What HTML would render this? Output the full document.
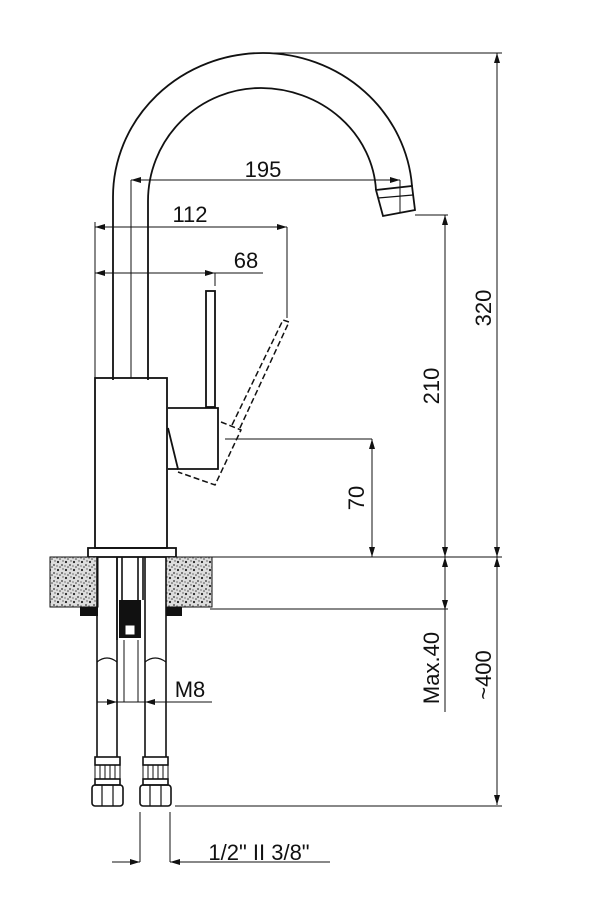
<!DOCTYPE html>
<html><head><style>
html,body{margin:0;padding:0;background:#fff;}
svg{display:block;}
text{font-family:"Liberation Sans",sans-serif;fill:#111;}
</style></head><body>
<svg width="600" height="907" viewBox="0 0 600 907" xmlns="http://www.w3.org/2000/svg">
<defs>
<marker id="a" viewBox="0 0 10 6" refX="10" refY="3" markerWidth="10" markerHeight="6" orient="auto-start-reverse" markerUnits="userSpaceOnUse"><path d="M0,0L10,3L0,6z" fill="#111"/></marker>
<pattern id="st" width="8" height="8" patternUnits="userSpaceOnUse"><rect width="8" height="8" fill="#ddd"/><circle cx="2" cy="2" r="1.1" fill="#222"/><circle cx="6" cy="5" r="0.9" fill="#333"/><circle cx="4" cy="7" r="0.8" fill="#444"/><circle cx="7" cy="1" r="0.7" fill="#555"/><circle cx="1" cy="6" r="0.6" fill="#333"/></pattern>
</defs>
<g fill="none" stroke="#111" stroke-width="1.8">
<!-- spout -->
<path d="M113,380 L113,197 A150,144 0 0 1 263,53 A150,144 0 0 1 412,186"/>
<path d="M148,380 L148,201 A113,113 0 0 1 261,88 A116,108 0 0 1 376,190"/>
<path d="M376,190 L412,186 L415,210 L383,216 Z"/>
<line x1="378" y1="198" x2="413" y2="195" stroke-width="1.2"/>
<!-- body -->
<rect x="95" y="378" width="72" height="170"/>
<rect x="88" y="548" width="88" height="9"/>
<!-- lever -->
<rect x="206" y="291" width="9" height="116"/>
<path d="M168,408 L218,408 L218,469 L178,469 L168,428"/>
<line x1="168" y1="469" x2="178" y2="469"/>
<g stroke-dasharray="6,3" stroke-width="1.5">
<path d="M221,422 L241,430 L215,485 L178,472"/>
<path d="M232,425 L283,320 L289,322 L239,430"/>
</g>
</g>
<!-- dimension lines -->
<g stroke="#111" stroke-width="1" fill="none">
<line x1="131" y1="180" x2="131" y2="378"/>
<line x1="131" y1="180" x2="400" y2="180" marker-start="url(#a)" marker-end="url(#a)"/>
<line x1="400" y1="180" x2="400" y2="212"/>
<line x1="95" y1="222" x2="95" y2="378"/>
<line x1="95" y1="227" x2="287" y2="227" marker-start="url(#a)" marker-end="url(#a)"/>
<line x1="287" y1="227" x2="287" y2="318"/>
<line x1="95" y1="273" x2="215" y2="273" marker-start="url(#a)" marker-end="url(#a)"/>
<line x1="215" y1="273" x2="263" y2="273"/>
<line x1="215" y1="273" x2="215" y2="286"/>
<line x1="225" y1="439" x2="372" y2="439"/>
<line x1="372" y1="439" x2="372" y2="557" marker-start="url(#a)" marker-end="url(#a)"/>
<line x1="415" y1="215" x2="448" y2="215"/>
<line x1="445" y1="215" x2="445" y2="557" marker-start="url(#a)" marker-end="url(#a)"/>
<line x1="257" y1="53" x2="502" y2="53"/>
<line x1="497" y1="53" x2="497" y2="557" marker-start="url(#a)" marker-end="url(#a)"/>
<line x1="176" y1="557" x2="502" y2="557"/>
<line x1="445" y1="557" x2="445" y2="610" marker-start="url(#a)" marker-end="url(#a)"/>
<line x1="445" y1="610" x2="445" y2="712"/>
<line x1="210" y1="609" x2="448" y2="609"/>
<line x1="497" y1="557" x2="497" y2="805" marker-start="url(#a)" marker-end="url(#a)"/>
<line x1="175" y1="806" x2="502" y2="806"/>
<line x1="97" y1="702" x2="117" y2="702" marker-end="url(#a)"/>
<line x1="145" y1="702" x2="212" y2="702" marker-start="url(#a)"/>
<line x1="117" y1="702" x2="145" y2="702"/>
<line x1="140" y1="812" x2="140" y2="862"/>
<line x1="170" y1="812" x2="170" y2="862"/>
<line x1="112" y1="862" x2="140" y2="862" marker-end="url(#a)"/>
<line x1="170" y1="862" x2="330" y2="862" marker-start="url(#a)"/>
</g>
<!-- countertop -->
<rect x="50" y="557" width="48" height="50" fill="url(#st)" stroke="#111" stroke-width="1"/>
<rect x="166" y="557" width="46" height="50" fill="url(#st)" stroke="#111" stroke-width="1"/>
<rect x="80" y="607" width="18" height="9" fill="#111"/>
<rect x="166" y="607" width="16" height="9" fill="#111"/>
<!-- hoses -->
<g fill="none" stroke="#111" stroke-width="1.6">
<path d="M97,557 L97,757 M117,557 L117,757 M145,557 L145,757 M166,557 L166,757"/>
<path d="M117,557 L117,640 M122,557 L122,600 M138,557 L138,600 M143,557 L143,600"/>
<path d="M97,662 Q107,654 117,662 M145,662 Q155,654 166,662" stroke-width="1.2"/>
<path d="M124,640 L124,702 M138,640 L138,702" stroke-width="1"/>
<rect x="95" y="757" width="25" height="8"/>
<rect x="143" y="757" width="25" height="8"/>
<rect x="95" y="765" width="25" height="14" stroke-width="1"/>
<rect x="143" y="765" width="25" height="14" stroke-width="1"/>
<path d="M100,765v14M105,765v14M110,765v14M115,765v14M148,765v14M153,765v14M158,765v14M163,765v14" stroke-width="1"/>
<rect x="95" y="779" width="25" height="6"/>
<rect x="143" y="779" width="25" height="6"/>
<rect x="92" y="785" width="31" height="21" rx="3"/>
<rect x="140" y="785" width="31" height="21" rx="3"/>
<path d="M102,785v21M113,785v21M150,785v21M161,785v21" stroke-width="1.2"/>
</g>
<path d="M119,600 L141,600 L141,638 L119,638 Z" fill="#111"/>
<rect x="125" y="625" width="10" height="10" fill="#fff" stroke="#111"/>
<!-- labels -->
<text x="263" y="177" font-size="22" text-anchor="middle">195</text>
<text x="190" y="222" font-size="22" text-anchor="middle">112</text>
<text x="246" y="268" font-size="22" text-anchor="middle">68</text>
<text x="190" y="697" font-size="22" text-anchor="middle">M8</text>
<text x="259" y="860" font-size="22" text-anchor="middle">1/2" II 3/8"</text>
<text transform="translate(364,498) rotate(-90)" font-size="22" text-anchor="middle">70</text>
<text transform="translate(439,386) rotate(-90)" font-size="22" text-anchor="middle">210</text>
<text transform="translate(491,308) rotate(-90)" font-size="22" text-anchor="middle">320</text>
<text transform="translate(439,668) rotate(-90)" font-size="22" text-anchor="middle">Max.40</text>
<text transform="translate(491,675) rotate(-90)" font-size="22" text-anchor="middle">~400</text>
</svg>
</body></html>
